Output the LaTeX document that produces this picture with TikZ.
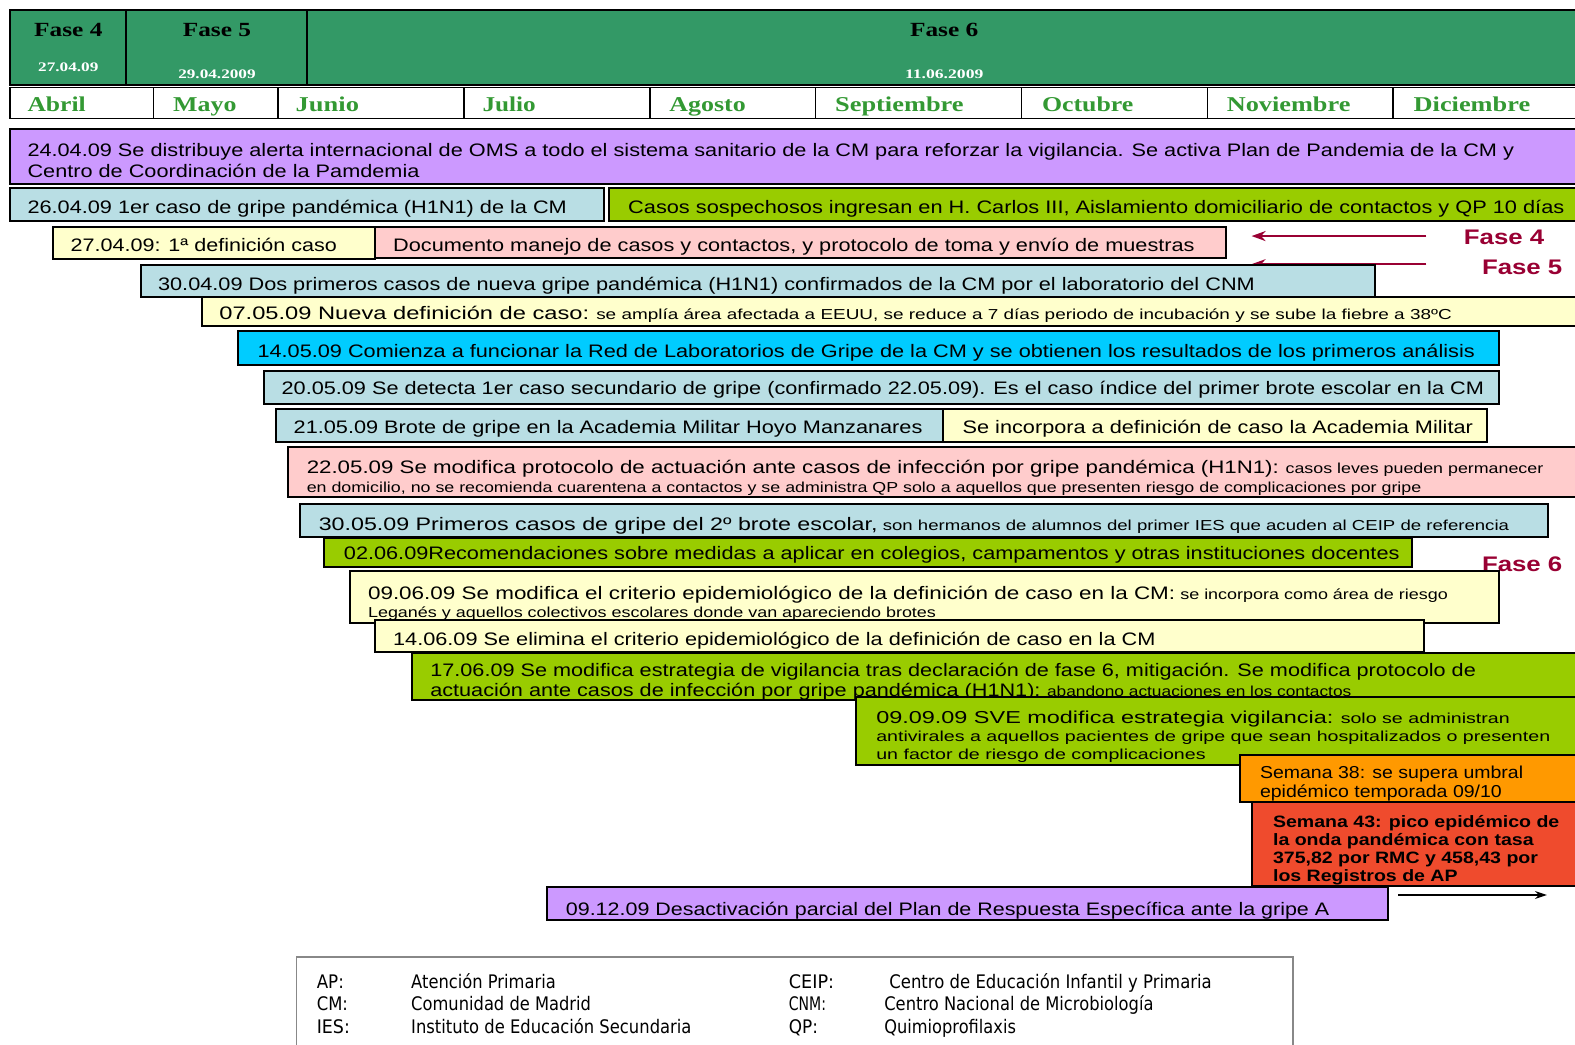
\documentclass[tikz,border=0pt]{standalone}
\usepackage{fontspec}
\usepackage{graphicx}
\setmainfont{Liberation Sans}
\newfontfamily\hdrf{Liberation Serif}
\newfontfamily\legf{DejaVu Sans}
\usetikzlibrary{fit,arrows.meta}
\definecolor{hgreen}{HTML}{339966}
\definecolor{mgreen}{HTML}{339933}
\definecolor{cpurple}{HTML}{CC99FF}
\definecolor{cblue}{HTML}{B9DEE4}
\definecolor{cgreen}{HTML}{99CC00}
\definecolor{cyel}{HTML}{FFFFCC}
\definecolor{cpink}{HTML}{FFCCCC}
\definecolor{ccyan}{HTML}{00CCFF}
\definecolor{corange}{HTML}{FF9900}
\definecolor{cred}{HTML}{EF4B2D}
\definecolor{fred}{HTML}{990033}
\definecolor{lgray}{HTML}{888888}
\newsavebox\fitbx
\newdimen\fitdw
\newcommand\fitt[2]{%
  \sbox\fitbx{\begin{tabular}{@{}l@{}}#2\end{tabular}}%
  \fitdw=\wd\fitbx
  \pgfmathsetmacro\fitr{(#1*0.5)/\fitdw}%
  \scalebox{\fitr}[1]{\usebox\fitbx}}
\newcommand\sm{\fontsize{7.2}{9}\selectfont}
\tikzset{
  box/.style={draw=black, line width=1pt, inner sep=0pt},
  tx/.style={anchor=west, inner sep=0pt, yshift=-1pt, font=\fontsize{9}{10}\selectfont},
  hd/.style={inner sep=0pt, yshift=-1pt, font=\hdrf\bfseries\fontsize{10}{12}\selectfont},
  hdate/.style={inner sep=0pt, yshift=-1pt, text=white, font=\hdrf\bfseries\fontsize{6.5}{8}\selectfont},
  mon/.style={anchor=west, inner sep=0pt, yshift=-1pt, text=mgreen, font=\hdrf\bfseries\fontsize{10.5}{12}\selectfont},
  fase/.style={anchor=west, inner sep=0pt, yshift=-1pt, text=fred, font=\bfseries\fontsize{10.5}{12}\selectfont},
  farr/.style={draw=fred, line width=0.9pt, -{Stealth[length=7pt,width=5pt]}},
  barr/.style={draw=black, line width=0.6pt, -{Stealth[length=6pt,width=4pt]}},
  legt/.style={anchor=west, inner sep=0pt, yshift=-1.2pt, font=\legf\fontsize{9.3}{11}\selectfont},
}
\begin{document}
\begin{tikzpicture}[x=0.5pt,y=-0.5pt]
\useasboundingbox (0,0) rectangle (1568,1040);
% header band
\fill[hgreen] (10,10) rectangle (1580,85);
\draw[line width=1pt] (10,10) rectangle (1580,85);
\draw[line width=1pt] (125,10) -- (125,85);
\draw[line width=1pt] (306,10) -- (306,85);
\node[hd] (f4) at (68,30) {\fitt{68}{Fase 4}};
\node[hdate] (d4) at (68,66) {\fitt{60}{27.04.09}};
\node[hd] (f5) at (216,30) {\fitt{68}{Fase 5}};
\node[hdate] (d5) at (216,73) {\fitt{77}{29.04.2009}};
\node[hd] (f6) at (940,30) {\fitt{68}{Fase 6}};
\node[hdate] (d6) at (940,73) {\fitt{78}{11.06.2009}};
% months
\draw[line width=0.8pt] (10,87) rectangle (1580,118);
\foreach \mx in {153,277,462,647,812,1017,1202,1387} \draw[line width=0.8pt] (\mx,87) -- (\mx,118);
\node[mon] (m1) at (27,104) {\fitt{58}{Abril}};
\node[mon] (m2) at (172,104) {\fitt{63}{Mayo}};
\node[mon] (m3) at (294,104) {\fitt{63}{Junio}};
\node[mon] (m4) at (480,104) {\fitt{53}{Julio}};
\node[mon] (m5) at (666,104) {\fitt{76}{Agosto}};
\node[mon] (m6) at (831,104) {\fitt{128}{Septiembre}};
\node[mon] (m7) at (1037,104) {\fitt{91}{Octubre}};
\node[mon] (m8) at (1221,104) {\fitt{123}{Noviembre}};
\node[mon] (m9) at (1407,104) {\fitt{116}{Diciembre}};
% R1
\node[box, fill=cpurple, fit={(10,128)(1580,183)}] (b1) {};
\node[tx, font=\fontsize{9}{10.5}\selectfont] (t1) at (27,160) {\fitt{1480}{24.04.09 Se distribuye alerta internacional de OMS a todo el sistema sanitario de la CM para reforzar la vigilancia. Se activa Plan de Pandemia de la CM y\\Centro de Coordinación de la Pamdemia}};
% R2
\node[box, fill=cblue, fit={(10,187)(601,220)}] (b2a) {};
\node[tx] (t2a) at (27,207) {\fitt{537}{26.04.09 1er caso de gripe pandémica (H1N1) de la CM}};
\node[box, fill=cgreen, fit={(606,187)(1580,220)}] (b2b) {};
\node[tx] (t2b) at (625,207) {\fitt{932}{Casos sospechosos ingresan en H. Carlos III, Aislamiento domiciliario de contactos y QP 10 días}};
% R3
\node[box, fill=cyel, fit={(53,226)(373,258)}] (b3a) {};
\node[tx] (t3a) at (70,244) {\fitt{265}{27.04.09: 1ª definición caso}};
\node[box, fill=cpink, fit={(373,226)(1221,257)}] (b3b) {};
\node[tx] (t3b) at (391,244) {\fitt{798}{Documento manejo de casos y contactos, y protocolo de toma y envío de muestras}};
% phase arrows
\coordinate (a4s) at (1420,235);
\coordinate (a4e) at (1246,235);
\coordinate (a5s) at (1420,263);
\coordinate (a5e) at (1246,263);
\draw[farr] (a4s) -- (a4e);
\draw[farr] (a5s) -- (a5e);
\node[fase] (lf4) at (1457,237) {\fitt{80}{Fase 4}};
\node[fase] (lf5) at (1475,266) {\fitt{80}{Fase 5}};
% R4
\node[box, fill=cblue, fit={(140,264)(1369,296)}] (b4) {};
\node[tx] (t4) at (157,283) {\fitt{1092}{30.04.09 Dos primeros casos de nueva gripe pandémica (H1N1) confirmados de la CM por el laboratorio del CNM}};
% R5
\node[box, fill=cyel, fit={(201,296)(1580,325)}] (b5) {};
\node[tx] (t5) at (218,312) {\fitt{1227}{07.05.09 Nueva definición de caso:\sm{} se amplía área afectada a EEUU, se reduce a 7 días periodo de incubación y se sube la fiebre a 38ºC}};
% R6
\node[box, fill=ccyan, fit={(237,330)(1492,363)}] (b6) {};
\node[tx] (t6) at (256,350) {\fitt{1212}{14.05.09 Comienza a funcionar la Red de Laboratorios de Gripe de la CM y se obtienen los resultados de los primeros análisis}};
% R7
\node[box, fill=cblue, fit={(263,369)(1492,402)}] (b7) {};
\node[tx] (t7) at (280,387) {\fitt{1197}{20.05.09 Se detecta 1er caso secundario de gripe (confirmado 22.05.09). Es el caso índice del primer brote escolar en la CM}};
% R8
\node[box, fill=cblue, fit={(275,407)(939,440)}] (b8a) {};
\node[tx] (t8a) at (292,426) {\fitt{626}{21.05.09 Brote de gripe en la Academia Militar Hoyo Manzanares}};
\node[box, fill=cyel, fit={(939,407)(1480,440)}] (b8b) {};
\node[tx] (t8b) at (958,426) {\fitt{508}{Se incorpora a definición de caso la Academia Militar}};
% R9
\node[box, fill=cpink, fit={(287,445)(1580,495)}] (b9) {};
\node[tx, font=\fontsize{9}{9.5}\selectfont] (t9) at (305,475) {\fitt{1231}{22.05.09 Se modifica protocolo de actuación ante casos de infección por gripe pandémica (H1N1):\sm{} casos leves pueden permanecer\\\sm en domicilio, no se recomienda cuarentena a contactos y se administra QP solo a aquellos que presenten riesgo de complicaciones por gripe}};
% R10
\node[box, fill=cblue, fit={(299,502)(1541,535)}] (b10) {};
\node[tx] (t10) at (317,522) {\fitt{1185}{30.05.09 Primeros casos de gripe del 2º brote escolar,\sm{} son hermanos de alumnos del primer IES que acuden al CEIP de referencia}};
% R11
\node[box, fill=cgreen, fit={(323,536)(1406,564)}] (b11) {};
\node[tx] (t11) at (342,551) {\fitt{1051}{02.06.09Recomendaciones sobre medidas a aplicar en colegios, campamentos y otras instituciones docentes}};
\node[fase] (lf6) at (1475,562) {\fitt{80}{Fase 6}};
% R12
\node[box, fill=cyel, fit={(348,568)(1492,620)}] (b12) {};
\node[tx, font=\fontsize{9}{9}\selectfont] (t12) at (366,600) {\fitt{1075}{09.06.09 Se modifica el criterio epidemiológico de la definición de caso en la CM:\sm{} se incorpora como área de riesgo\\\sm Leganés y aquellos colectivos escolares donde van apareciendo brotes}};
% R13
\node[box, fill=cyel, fit={(373,617)(1418,649)}] (b13) {};
\node[tx] (t13) at (391,637) {\fitt{759}{14.06.09 Se elimina el criterio epidemiológico de la definición de caso en la CM}};
% R14
\node[box, fill=cgreen, fit={(410,650)(1580,697)}] (b14) {};
\node[tx, font=\fontsize{9}{10}\selectfont] (t14) at (428,677) {\fitt{1041}{17.06.09 Se modifica estrategia de vigilancia tras declaración de fase 6, mitigación. Se modifica protocolo de\\actuación ante casos de infección por gripe pandémica (H1N1):\sm{} abandono actuaciones en los contactos}};
% R15
\node[box, fill=cgreen, fit={(852,694)(1580,762)}] (b15) {};
\node[tx, font=\fontsize{8.6}{9}\selectfont] (t15) at (872,733) {\fitt{671}{09.09.09 SVE modifica estrategia vigilancia:\sm{} solo se administran\\\sm antivirales a aquellos pacientes de gripe que sean hospitalizados o presenten\\\sm un factor de riesgo de complicaciones}};
% R16
\node[box, fill=corange, fit={(1234,752)(1580,798)}] (b16) {};
\node[tx, font=\fontsize{8.6}{9.5}\selectfont] (t16) at (1254,779) {\fitt{262}{Semana 38: se supera umbral\\epidémico temporada 09/10}};
% R17
\node[box, fill=cred, fit={(1246,798)(1580,882)}] (b17) {};
\node[tx, font=\bfseries\fontsize{8.2}{9}\selectfont] (t17) at (1267,845) {\fitt{285}{Semana 43: pico epidémico de\\la onda pandémica con tasa\\375,82 por RMC y 458,43 por\\los Registros de AP}};
% R18
\node[box, fill=cpurple, fit={(545,883)(1382,916)}] (b18) {};
\node[tx] (t18) at (563,905) {\fitt{760}{09.12.09 Desactivación parcial del Plan de Respuesta Específica ante la gripe A}};
\coordinate (ars) at (1392,891);
\coordinate (are) at (1540,891);
\draw[barr] (ars) -- (are);
% legend
\node[draw=lgray, line width=0.8pt, inner sep=0pt, fit={(295,953)(1287,1060)}] (leg) {};
\node[legt] (l1a) at (315,977) {\fitt{27}{AP:}};
\node[legt] (l1b) at (409,977) {\fitt{144}{Atención Primaria}};
\node[legt] (l2a) at (315,999) {\fitt{31}{CM:}};
\node[legt] (l2b) at (409,999) {\fitt{179}{Comunidad de Madrid}};
\node[legt] (l3a) at (315,1022) {\fitt{33}{IES:}};
\node[legt] (l3b) at (409,1022) {\fitt{279}{Instituto de Educación Secundaria}};
\node[legt] (l4a) at (785,977) {\fitt{45}{CEIP:}};
\node[legt] (l4b) at (885,977) {\fitt{321}{Centro de Educación Infantil y Primaria}};
\node[legt] (l5a) at (785,999) {\fitt{37}{CNM:}};
\node[legt] (l5b) at (880,999) {\fitt{268}{Centro Nacional de Microbiología}};
\node[legt] (l6a) at (785,1022) {\fitt{29}{QP:}};
\node[legt] (l6b) at (880,1022) {\fitt{131}{Quimioprofilaxis}};
\end{tikzpicture}
\end{document}
